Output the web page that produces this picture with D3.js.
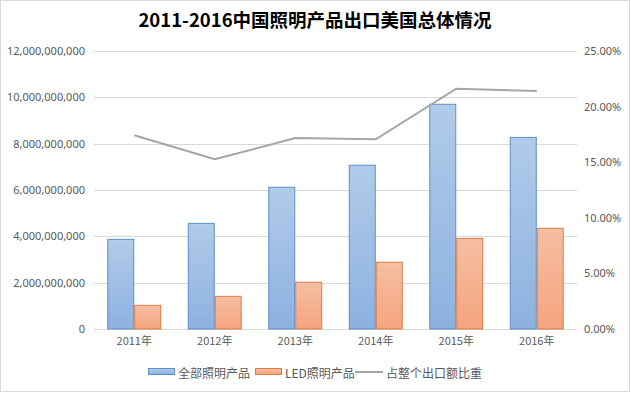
<!DOCTYPE html>
<html>
<head>
<meta charset="utf-8">
<script src="https://cdn.jsdelivr.net/npm/d3@7"></script>
<style>
    body { margin: 0; background: #fff; }
    text { font-family: "Microsoft YaHei", "Noto Sans CJK SC", sans-serif; }
</style>
</head>
<body>
<script>
// data
const years = ["2011年", "2012年", "2013年", "2014年", "2015年", "2016年"];
const allLighting = [3870000000, 4560000000, 6120000000, 7070000000, 9700000000, 8270000000];
const ledLighting = [1020000000, 1410000000, 2020000000, 2880000000, 3910000000, 4350000000];
const shareOfExports = [0.1742, 0.1526, 0.1717, 0.1706, 0.2161, 0.2140];
const leftTicks = [0, 2e9, 4e9, 6e9, 8e9, 10e9, 12e9];
const rightTicks = [0, 0.05, 0.10, 0.15, 0.20, 0.25];
const seriesNames = ["全部照明产品", "LED照明产品", "占整个出口额比重"];

const width = 631, height = 393;
const plot = {left: 94, right: 577, top: 51, bottom: 329};

const svg = d3.select("body")
    .append("svg")
    .attr("width", width)
    .attr("height", height);

// gradients for the bars
let defs = svg.append("defs");
let gradBlue = defs.append("linearGradient").attr("id", "gBlue").attr("x1", 0).attr("y1", 0).attr("x2", 0).attr("y2", 1);
gradBlue.append("stop").attr("offset", "0%").attr("stop-color", "#b1cbe9");
gradBlue.append("stop").attr("offset", "100%").attr("stop-color", "#8cb1e0");
let gradOrange = defs.append("linearGradient").attr("id", "gOrange").attr("x1", 0).attr("y1", 0).attr("x2", 0).attr("y2", 1);
gradOrange.append("stop").attr("offset", "0%").attr("stop-color", "#f6bea3");
gradOrange.append("stop").attr("offset", "100%").attr("stop-color", "#f4a47d");

// chart border
svg.append("rect")
    .attr("x", 0.5).attr("y", 0.5)
    .attr("width", width - 2).attr("height", height - 2)
    .attr("fill", "white")
    .attr("stroke", "#d9d9d9");

svg.append("text")
    .text("2011-2016中国照明产品出口美国总体情况")
    .attr("x", 315)
    .attr("y", 27)
    .attr("text-anchor", "middle")
    .attr("font-size", "18.5px")
    .attr("font-weight", "bold")
    .attr("fill", "#000");

let x = d3.scaleBand().domain(years).range([plot.left, plot.right]).paddingInner(0.33).paddingOuter(0.165);
let yLeft = d3.scaleLinear().domain([0, 12e9]).range([plot.bottom, plot.top]);
let yRight = d3.scaleLinear().domain([0, 0.25]).range([plot.bottom, plot.top]);

// gridlines
svg.append("g")
    .selectAll("line")
    .data(leftTicks)
    .enter()
    .append("line")
    .attr("x1", plot.left).attr("x2", plot.right)
    .attr("y1", d => Math.round(yLeft(d)) + 0.5)
    .attr("y2", d => Math.round(yLeft(d)) + 0.5)
    .attr("stroke", "#d9d9d9");

// left axis
let leftAxis = d3.axisLeft(yLeft).tickValues(leftTicks).tickSize(0).tickPadding(9).tickFormat(d3.format(","));
let gl = svg.append("g").attr("transform", "translate(" + plot.left + ",0)").call(leftAxis);
gl.select(".domain").remove();
gl.selectAll("text").attr("font-size", "11px").attr("fill", "#595959").style("font-family", '"Noto Sans", sans-serif');

// right axis
let rightAxis = d3.axisRight(yRight).tickValues(rightTicks).tickSize(0).tickPadding(7).tickFormat(d3.format(".2%"));
let gr = svg.append("g").attr("transform", "translate(" + plot.right + ",0)").call(rightAxis);
gr.select(".domain").remove();
gr.selectAll("text").attr("font-size", "11px").attr("fill", "#595959").style("font-family", '"Noto Sans", sans-serif');

// x axis
let bottomAxis = d3.axisBottom(x).tickSize(0).tickPadding(8);
let gb = svg.append("g").attr("transform", "translate(0," + plot.bottom + ")").call(bottomAxis);
gb.select(".domain").remove();
gb.selectAll("text").attr("font-size", "11px").attr("fill", "#595959");

let bw = x.bandwidth() / 2;

svg.append("g")
    .selectAll("rect")
    .data(allLighting)
    .enter()
    .append("rect")
    .attr("x", (d, i) => x(years[i]) + 0.5)
    .attr("y", d => yLeft(d))
    .attr("width", bw - 1)
    .attr("height", d => plot.bottom - yLeft(d))
    .attr("fill", "url(#gBlue)")
    .attr("stroke", "#5b8fc7")
    .attr("stroke-width", 1);

svg.append("g")
    .selectAll("rect")
    .data(ledLighting)
    .enter()
    .append("rect")
    .attr("x", (d, i) => x(years[i]) + bw + 0.5)
    .attr("y", d => yLeft(d))
    .attr("width", bw - 1)
    .attr("height", d => plot.bottom - yLeft(d))
    .attr("fill", "url(#gOrange)")
    .attr("stroke", "#e07b40")
    .attr("stroke-width", 1);

// share line
svg.append("path")
    .datum(shareOfExports)
    .attr("fill", "none")
    .attr("stroke", "#a5a5a5")
    .attr("stroke-width", 2)
    .attr("d", d3.line()
        .x((d, i) => x(years[i]) + x.bandwidth() / 2)
        .y(d => yRight(d)));

// legend
let legend = svg.append("g");
legend.append("rect").attr("x", 148.5).attr("y", 368.5).attr("width", 26).attr("height", 6)
    .attr("fill", "url(#gBlue)").attr("stroke", "#5b8fc7");
legend.append("text").text(seriesNames[0]).attr("x", 178).attr("y", 377.5)
    .attr("font-size", "12px").attr("fill", "#595959");
legend.append("rect").attr("x", 255.5).attr("y", 368.5).attr("width", 26).attr("height", 6)
    .attr("fill", "url(#gOrange)").attr("stroke", "#e07b40");
legend.append("text").text(seriesNames[1]).attr("x", 285).attr("y", 377.5)
    .attr("font-size", "12px").attr("fill", "#595959");
legend.append("line").attr("x1", 355).attr("x2", 383).attr("y1", 372).attr("y2", 372)
    .attr("stroke", "#a5a5a5").attr("stroke-width", 2);
legend.append("text").text(seriesNames[2]).attr("x", 386).attr("y", 377.5)
    .attr("font-size", "12px").attr("fill", "#595959");
</script>
</body>
</html>
